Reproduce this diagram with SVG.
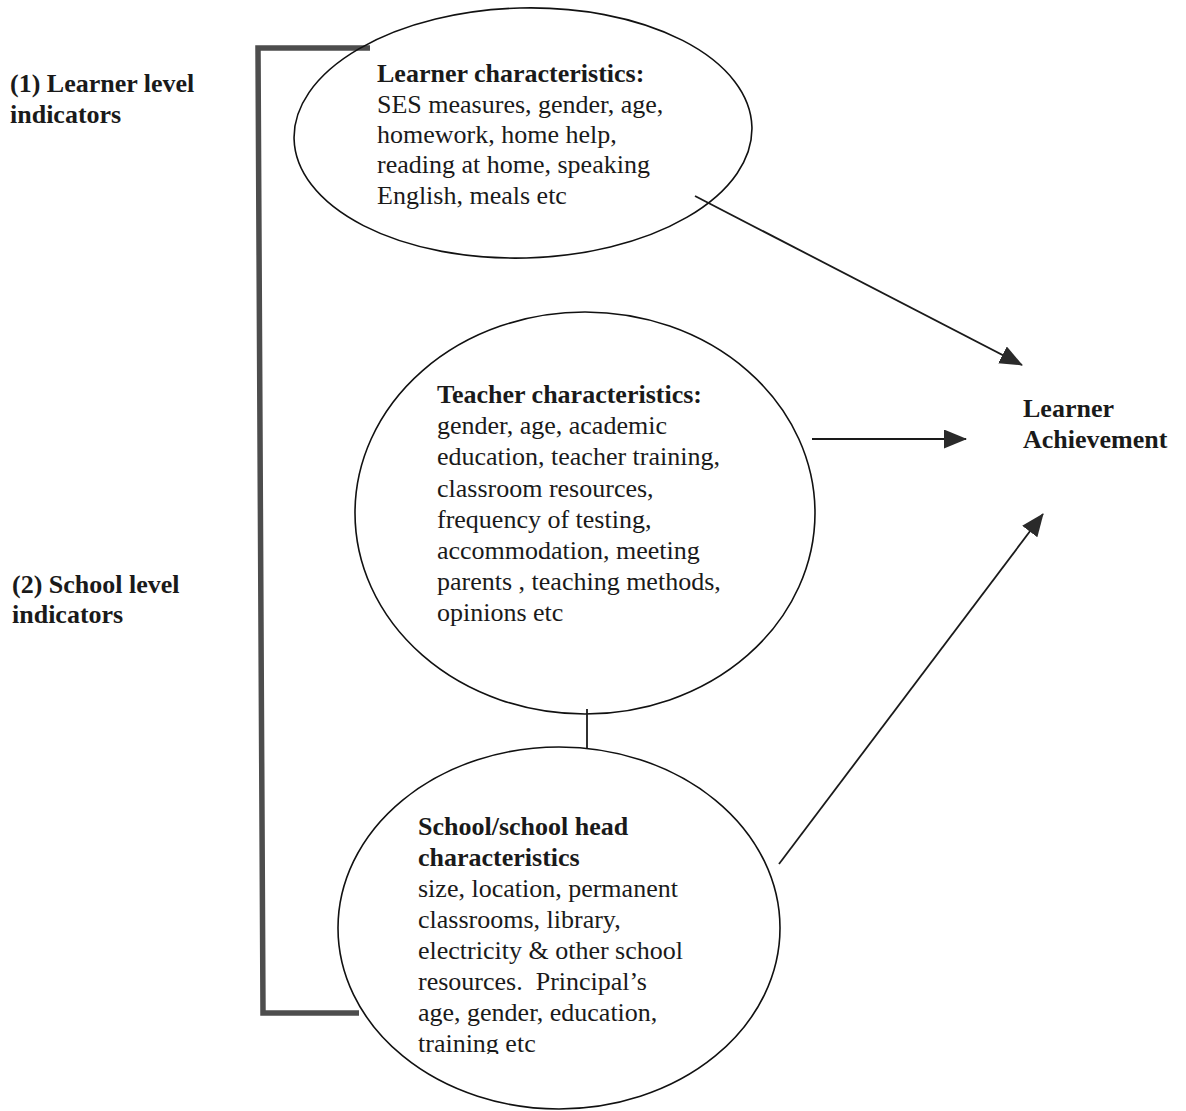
<svg xmlns="http://www.w3.org/2000/svg" width="1186" height="1111" viewBox="0 0 1186 1111">
<style>
  text { font-family: "Liberation Serif", "Times New Roman", serif; font-size: 26px; fill: #1a1a1a; }
  .b { font-weight: bold; }
  .node { fill: none; stroke: #111; stroke-width: 1.6; }
  .edge { fill: none; stroke: #1a1a1a; stroke-width: 1.8; }
  .bracket { fill: none; stroke: #4d4d4d; stroke-width: 5.5; stroke-linejoin: miter; }
</style>
<defs>
  <marker id="ah" markerUnits="userSpaceOnUse" markerWidth="24" markerHeight="20" refX="22" refY="9.5" orient="auto">
    <path d="M0,0 L23,9.5 L0,19 Z" fill="#2a2a2a"/>
  </marker>
  <clipPath id="clipSchool">
    <rect x="300" y="760" width="500" height="294"/>
  </clipPath>
</defs>
<rect width="1186" height="1111" fill="#fff"/>

<g id="labels-left">
  <text class="b" x="10" y="92">(1) Learner level</text>
  <text class="b" x="10" y="123">indicators</text>
  <text class="b" x="12" y="593">(2) School level</text>
  <text class="b" x="12" y="623">indicators</text>
</g>

<g id="bracket">
  <path class="bracket" d="M370,48 L258,48 L263,1013 L359,1013"/>
</g>

<g id="node-learner">
  <ellipse class="node" cx="523" cy="133" rx="229" ry="125" transform="rotate(-1.5 523 133)"/>
  <text x="377"><tspan class="b" x="377" y="82">Learner characteristics:</tspan><tspan x="377" y="112.5">SES measures, gender, age,</tspan><tspan x="377" y="143">homework, home help,</tspan><tspan x="377" y="173.3">reading at home, speaking</tspan><tspan x="377" y="203.6">English, meals etc</tspan></text>
</g>

<g id="node-teacher">
  <ellipse class="node" cx="585" cy="513" rx="230" ry="201"/>
  <text x="437"><tspan class="b" x="437" y="403">Teacher characteristics:</tspan><tspan x="437" y="434.2">gender, age, academic</tspan><tspan x="437" y="465.4">education, teacher training,</tspan><tspan x="437" y="496.6">classroom resources,</tspan><tspan x="437" y="527.8">frequency of testing,</tspan><tspan x="437" y="559">accommodation, meeting</tspan><tspan x="437" y="590.2">parents , teaching methods,</tspan><tspan x="437" y="621.4">opinions etc</tspan></text>
</g>

<g id="node-school">
  <ellipse class="node" cx="559" cy="928" rx="221" ry="181"/>
  <text x="418" clip-path="url(#clipSchool)" xml:space="preserve"><tspan class="b" x="418" y="835">School/school head</tspan><tspan class="b" x="418" y="866">characteristics</tspan><tspan x="418" y="897">size, location, permanent</tspan><tspan x="418" y="928">classrooms, library,</tspan><tspan x="418" y="959">electricity &amp; other school</tspan><tspan x="418" y="990">resources.  Principal’s</tspan><tspan x="418" y="1021">age, gender, education,</tspan><tspan x="418" y="1052">training etc</tspan></text>
</g>

<g id="node-achievement">
  <text class="b" x="1023" y="417">Learner</text>
  <text class="b" x="1023" y="448">Achievement</text>
</g>

<g id="connectors">
  <line class="edge" x1="695" y1="196" x2="1022" y2="365" marker-end="url(#ah)"/>
  <line class="edge" x1="812" y1="439" x2="966" y2="439" marker-end="url(#ah)"/>
  <line class="edge" x1="779" y1="864" x2="1043" y2="514" marker-end="url(#ah)"/>
  <line class="edge" x1="587" y1="709" x2="587" y2="748" stroke-width="1.4"/>
</g>
</svg>
